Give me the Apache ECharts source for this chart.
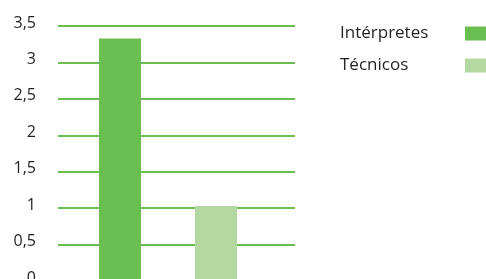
<!DOCTYPE html>
<html>
<head>
<meta charset="utf-8">
<script src="https://cdn.jsdelivr.net/npm/echarts@6/dist/echarts.min.js"></script>
<style>
  html, body { margin: 0; padding: 0; background: #fff; }
  #chart { width: 486px; height: 279px; }
</style>
</head>
<body>
<div id="chart"></div>
<script>
// datos
const categories = ['Intérpretes', 'Técnicos'];
const interpretes = [3.33, '-'];
const tecnicos = ['-', 1.03];
const yMin = 0;
const yMax = 3.5;
const yStep = 0.5;

const green = '#6abd4f';
const lightGreen = '#b3d9a0';
const textColor = '#231f20';

const chart = echarts.init(document.getElementById('chart'));

const fmt = (v) => '{v|' + String(v).replace('.', ',') + '}';

chart.setOption({
  animation: false,
  legend: {
    orient: 'vertical',
    left: 340,
    top: 25,
    padding: 0,
    align: 'right',
    itemWidth: 22,
    itemHeight: 14,
    itemGap: 15,
    icon: 'rect',
    formatter: '{t|{name}}',
    textStyle: {
      rich: {
        t: {
          width: 120,
          align: 'left',
          lineHeight: 18,
          fontFamily: 'Open Sans',
          fontSize: 17,
          color: textColor,
        },
      },
    },
    data: categories,
  },
  grid: [
    // grid de las líneas
    { left: 58, width: 237, top: 26, height: 255, outerBoundsMode: 'none', containLabel: false },
    // grid de las barras
    { left: 72, width: 192, top: 26, height: 255, outerBoundsMode: 'none', containLabel: false },
  ],
  xAxis: [
    { gridIndex: 0, type: 'category', data: [''], show: false },
    { gridIndex: 1, type: 'category', data: categories, show: false },
  ],
  yAxis: [
    {
      gridIndex: 0,
      type: 'value',
      min: yMin,
      max: yMax,
      interval: yStep,
      axisLine: { show: false },
      axisTick: { show: false },
      axisLabel: {
        formatter: fmt,
        margin: 22,
        rich: {
          v: {
            fontFamily: 'Open Sans',
            fontSize: 16,
            color: textColor,
            padding: [0, 0, 6, 0],
          },
        },
      },
      splitLine: { lineStyle: { color: green, width: 2 } },
    },
    {
      gridIndex: 1,
      type: 'value',
      min: yMin,
      max: yMax,
      interval: yStep,
      show: false,
      splitLine: { show: false },
    },
  ],
  series: [
    {
      name: 'Intérpretes',
      type: 'bar',
      xAxisIndex: 1,
      yAxisIndex: 1,
      data: interpretes,
      barWidth: 42,
      barGap: '-100%',
      itemStyle: { color: green },
    },
    {
      name: 'Técnicos',
      type: 'bar',
      xAxisIndex: 1,
      yAxisIndex: 1,
      data: tecnicos,
      barWidth: 42,
      barGap: '-100%',
      itemStyle: { color: lightGreen },
    },
  ],
});
</script>
</body>
</html>
